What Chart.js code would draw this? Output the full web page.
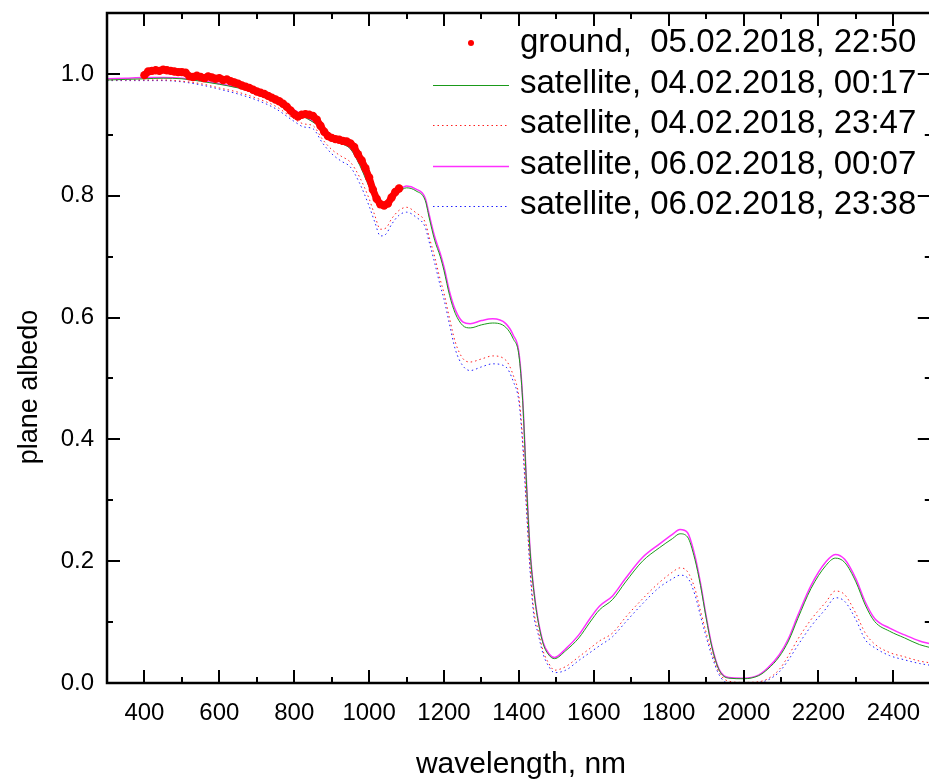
<!DOCTYPE html>
<html>
<head>
<meta charset="utf-8">
<script src="https://cdn.jsdelivr.net/npm/chart.js@4.4.1/dist/chart.umd.min.js"></script>
<style>
  html, body { margin: 0; padding: 0; background: #fff; overflow: hidden; }
  #albedo { display: block; }
</style>
</head>
<body>
<canvas id="albedo" width="935" height="780"></canvas>
<script>
const FONT = "'Liberation Sans', Arial, sans-serif";

// ground measurement, 05.02.2018 22:50
const groundWl = [
  400, 410, 420, 430, 440, 450, 460, 470, 480, 490, 500, 510, 520, 530, 540,
  550, 560, 570, 580, 590, 600, 610, 620, 630, 640, 650, 660, 670, 680, 690,
  700, 710, 720, 730, 740, 750, 760, 770, 780, 790, 800, 810, 820, 830, 840,
  850, 860, 870, 880, 890, 900, 910, 920, 930, 940, 950, 960, 970, 980, 990,
  1000, 1010, 1020, 1030, 1040, 1050, 1060, 1070, 1080,
];
const groundAlbedo = [
  0.998, 1.004, 1.005, 1.006, 1.005, 1.007, 1.006, 1.005, 1.004, 1.003, 1.003, 1.002, 0.996, 0.995, 0.997,
  0.995, 0.993, 0.996, 0.994, 0.992, 0.993, 0.990, 0.991, 0.988, 0.986, 0.984, 0.981, 0.979, 0.977, 0.974,
  0.971, 0.969, 0.967, 0.964, 0.961, 0.958, 0.955, 0.951, 0.946, 0.940, 0.934, 0.930, 0.933, 0.934, 0.933,
  0.931, 0.925, 0.915, 0.905, 0.898, 0.895, 0.893, 0.892, 0.890, 0.889, 0.886, 0.880, 0.868, 0.858, 0.845,
  0.830, 0.810, 0.795, 0.786, 0.784, 0.787, 0.797, 0.806, 0.812,
];

// satellite spectra, common wavelength grid
const satWl = [
  300, 350, 400, 450, 500, 550, 600, 650, 700, 750,
  800, 825, 850, 875, 900, 925, 950, 975, 1000, 1015,
  1030, 1045, 1060, 1080, 1100, 1125, 1150, 1160, 1175, 1190,
  1200, 1215, 1230, 1250, 1270, 1300, 1330, 1365, 1385, 1400,
  1410, 1420, 1430, 1440, 1450, 1465, 1480, 1495, 1525, 1560,
  1590, 1615, 1650, 1685, 1730, 1775, 1810, 1830, 1850, 1870,
  1885, 1900, 1915, 1935, 1960, 2000, 2040, 2065, 2095, 2120,
  2145, 2180, 2220, 2245, 2270, 2300, 2325, 2350, 2390, 2430,
  2470, 2500,
];
const sat0402a = [ // 04.02.2018, 00:17
  0.990, 0.991, 0.992, 0.993, 0.992, 0.988, 0.983, 0.977, 0.969, 0.958,
  0.940, 0.930, 0.921, 0.910, 0.896, 0.886, 0.877, 0.850, 0.815, 0.797,
  0.783, 0.784, 0.793, 0.806, 0.813, 0.808, 0.792, 0.765, 0.727, 0.700,
  0.677, 0.636, 0.607, 0.587, 0.583, 0.588, 0.591, 0.584, 0.565, 0.538,
  0.464, 0.330, 0.215, 0.150, 0.106, 0.064, 0.046, 0.040, 0.053, 0.074,
  0.100, 0.120, 0.137, 0.166, 0.200, 0.222, 0.237, 0.245, 0.240, 0.203,
  0.160, 0.107, 0.060, 0.021, 0.008, 0.007, 0.012, 0.023, 0.043, 0.069,
  0.106, 0.155, 0.193, 0.205, 0.198, 0.166, 0.128, 0.101, 0.085, 0.074,
  0.063, 0.058,
];
const sat0402b = [ // 04.02.2018, 23:47
  0.990, 0.990, 0.990, 0.990, 0.988, 0.984, 0.977, 0.970, 0.960, 0.947,
  0.926, 0.918, 0.915, 0.893, 0.876, 0.865, 0.855, 0.830, 0.795, 0.768,
  0.745, 0.747, 0.762, 0.776, 0.781, 0.772, 0.756, 0.733, 0.700, 0.662,
  0.640, 0.598, 0.560, 0.533, 0.527, 0.532, 0.537, 0.530, 0.505, 0.470,
  0.400, 0.295, 0.190, 0.118, 0.090, 0.052, 0.032, 0.021, 0.027, 0.043,
  0.057, 0.069, 0.082, 0.108, 0.138, 0.165, 0.182, 0.189, 0.183, 0.155,
  0.118, 0.083, 0.050, 0.017, 0.003, 0.001, 0.002, 0.007, 0.022, 0.045,
  0.072, 0.104, 0.133, 0.151, 0.145, 0.114, 0.082, 0.064, 0.050, 0.043,
  0.036, 0.033,
];
const sat0602a = [ // 06.02.2018, 00:07
  0.992, 0.993, 0.994, 0.994, 0.993, 0.989, 0.984, 0.978, 0.970, 0.959,
  0.941, 0.931, 0.922, 0.911, 0.897, 0.887, 0.878, 0.852, 0.817, 0.799,
  0.786, 0.787, 0.796, 0.809, 0.816, 0.811, 0.796, 0.770, 0.733, 0.705,
  0.683, 0.642, 0.613, 0.593, 0.590, 0.595, 0.598, 0.590, 0.571, 0.543,
  0.468, 0.333, 0.218, 0.152, 0.108, 0.066, 0.048, 0.042, 0.056, 0.079,
  0.106, 0.126, 0.143, 0.172, 0.206, 0.228, 0.244, 0.252, 0.247, 0.209,
  0.164, 0.110, 0.062, 0.022, 0.009, 0.008, 0.013, 0.025, 0.046, 0.073,
  0.111, 0.160, 0.199, 0.211, 0.203, 0.171, 0.133, 0.106, 0.090, 0.079,
  0.069, 0.064,
];
const sat0602b = [ // 06.02.2018, 23:38
  0.989, 0.989, 0.989, 0.989, 0.987, 0.982, 0.975, 0.967, 0.957, 0.943,
  0.922, 0.913, 0.910, 0.887, 0.869, 0.857, 0.847, 0.820, 0.783, 0.757,
  0.734, 0.737, 0.753, 0.768, 0.773, 0.765, 0.748, 0.725, 0.690, 0.652,
  0.630, 0.588, 0.548, 0.521, 0.513, 0.519, 0.524, 0.519, 0.495, 0.462,
  0.392, 0.287, 0.182, 0.110, 0.084, 0.047, 0.027, 0.017, 0.021, 0.037,
  0.050, 0.061, 0.076, 0.100, 0.130, 0.157, 0.171, 0.177, 0.173, 0.145,
  0.110, 0.076, 0.045, 0.013, 0.000, 0.000, 0.001, 0.005, 0.018, 0.038,
  0.062, 0.093, 0.122, 0.140, 0.134, 0.104, 0.071, 0.058, 0.045, 0.038,
  0.032, 0.029,
];

const seriesLabels = [
  "ground,  05.02.2018, 22:50",
  "satellite, 04.02.2018, 00:17",
  "satellite, 04.02.2018, 23:47",
  "satellite, 06.02.2018, 00:07",
  "satellite, 06.02.2018, 23:38",
];
const xTickValues = [400, 600, 800, 1000, 1200, 1400, 1600, 1800, 2000, 2200, 2400];
const yTickValues = [0, 0.2, 0.4, 0.6, 0.8, 1.0];

function toPoints(xs, ys) {
  return xs.map((x, i) => ({ x: x, y: ys[i] }));
}

function satLine(label, values, color, dash, width) {
  return {
    label: label,
    data: toPoints(satWl, values),
    borderColor: color,
    backgroundColor: color,
    borderWidth: width,
    borderDash: dash,
    pointRadius: 0,
    cubicInterpolationMode: "monotone",
    fill: false,
  };
}

// box round the plot with inward ticks, Origin style
const framePlugin = {
  id: "frame",
  afterDatasetsDraw(chart) {
    const { ctx, chartArea: a, scales } = chart;
    const x = scales.x;
    const y = scales.y;
    ctx.save();
    ctx.strokeStyle = "#000";
    ctx.lineWidth = 2.5;
    ctx.strokeRect(a.left, a.top, a.right - a.left, a.bottom - a.top);
    ctx.lineWidth = 2;
    ctx.beginPath();
    for (let v = 300; v <= 2500; v += 100) {
      const px = Math.round(x.getPixelForValue(v));
      const len = v % 200 === 0 ? 13 : 6;
      ctx.moveTo(px, a.bottom);
      ctx.lineTo(px, a.bottom - len);
      ctx.moveTo(px, a.top);
      ctx.lineTo(px, a.top + len);
    }
    for (let i = 0; i <= 11; i++) {
      const py = Math.round(y.getPixelForValue(i / 10));
      const len = i % 2 === 0 ? 13 : 6;
      ctx.moveTo(a.left, py);
      ctx.lineTo(a.left + len, py);
      ctx.moveTo(a.right, py);
      ctx.lineTo(a.right - len, py);
    }
    ctx.stroke();
    ctx.restore();
  },
};

// axis titles and the legend inside the plot
const labelsPlugin = {
  id: "labels",
  afterDraw(chart) {
    const { ctx } = chart;
    ctx.save();
    ctx.fillStyle = "#000";
    ctx.textBaseline = "alphabetic";

    ctx.font = "30px " + FONT;
    ctx.textAlign = "center";
    ctx.fillText("wavelength, nm", 521, 773);

    ctx.save();
    ctx.translate(37, 387);
    ctx.rotate(-Math.PI / 2);
    ctx.font = "27px " + FONT;
    ctx.fillText("plane albedo", 0, 0);
    ctx.restore();

    ctx.font = "33px " + FONT;
    ctx.textAlign = "left";
    chart.data.datasets.forEach((ds, i) => {
      const base = 52 + i * 40.5;
      const my = Math.round(base - 8) + 0.5;
      if (ds.pointRadius > 0) {
        ctx.beginPath();
        ctx.fillStyle = ds.pointBackgroundColor;
        ctx.arc(471, base - 9, 3, 0, Math.PI * 2);
        ctx.fill();
      } else {
        ctx.beginPath();
        ctx.strokeStyle = ds.borderColor;
        ctx.lineWidth = ds.borderWidth;
        ctx.setLineDash(ds.borderDash || []);
        ctx.moveTo(433, my);
        ctx.lineTo(509, my);
        ctx.stroke();
        ctx.setLineDash([]);
      }
      ctx.fillStyle = "#000";
      ctx.fillText(ds.label, 520, base);
    });
    ctx.restore();
  },
};

const datasets = [
  {
    label: seriesLabels[0],
    data: toPoints(groundWl, groundAlbedo),
    showLine: true,
    borderWidth: 7,
    borderColor: "#ff0000",
    borderCapStyle: "round",
    borderJoinStyle: "round",
    pointRadius: 4.2,
    pointBorderWidth: 0,
    pointBackgroundColor: "#ff0000",
    backgroundColor: "#ff0000",
    fill: false,
  },
  satLine(seriesLabels[1], sat0402a, "#1a9a1a", [], 1),
  satLine(seriesLabels[2], sat0402b, "#ff2020", [1.5, 3], 1),
  satLine(seriesLabels[3], sat0602a, "#ff30ff", [], 1.5),
  satLine(seriesLabels[4], sat0602b, "#2020ff", [1.5, 3], 1),
];

new Chart(document.getElementById("albedo"), {
  type: "line",
  data: { datasets: datasets },
  options: {
    responsive: false,
    animation: false,
    devicePixelRatio: 1,
    layout: { padding: { top: 13, right: 2, left: 0, bottom: 0 } },
    plugins: {
      legend: { display: false },
      tooltip: { enabled: false },
    },
    scales: {
      x: {
        type: "linear",
        min: 300,
        max: 2500,
        afterBuildTicks: (scale) => {
          scale.ticks = xTickValues.map((v) => ({ value: v }));
        },
        afterFit: (scale) => {
          scale.height = 97;
          scale.paddingLeft = 0;
          scale.paddingRight = 0;
        },
        grid: { display: false, drawTicks: false },
        border: { display: false },
        ticks: {
          padding: 16,
          maxRotation: 0,
          autoSkip: false,
          color: "#000",
          font: { family: FONT, size: 24 },
          callback: (v) => String(v),
        },
      },
      y: {
        type: "linear",
        min: 0,
        max: 1.1,
        afterBuildTicks: (scale) => {
          scale.ticks = yTickValues.map((v) => ({ value: v }));
        },
        afterFit: (scale) => {
          scale.width = 107;
          scale.paddingTop = 0;
          scale.paddingBottom = 0;
        },
        grid: { display: false, drawTicks: false },
        border: { display: false },
        ticks: {
          padding: 13,
          color: "#000",
          font: { family: FONT, size: 24 },
          callback: (v) => Number(v).toFixed(1),
        },
      },
    },
  },
  plugins: [framePlugin, labelsPlugin],
});
</script>
</body>
</html>
